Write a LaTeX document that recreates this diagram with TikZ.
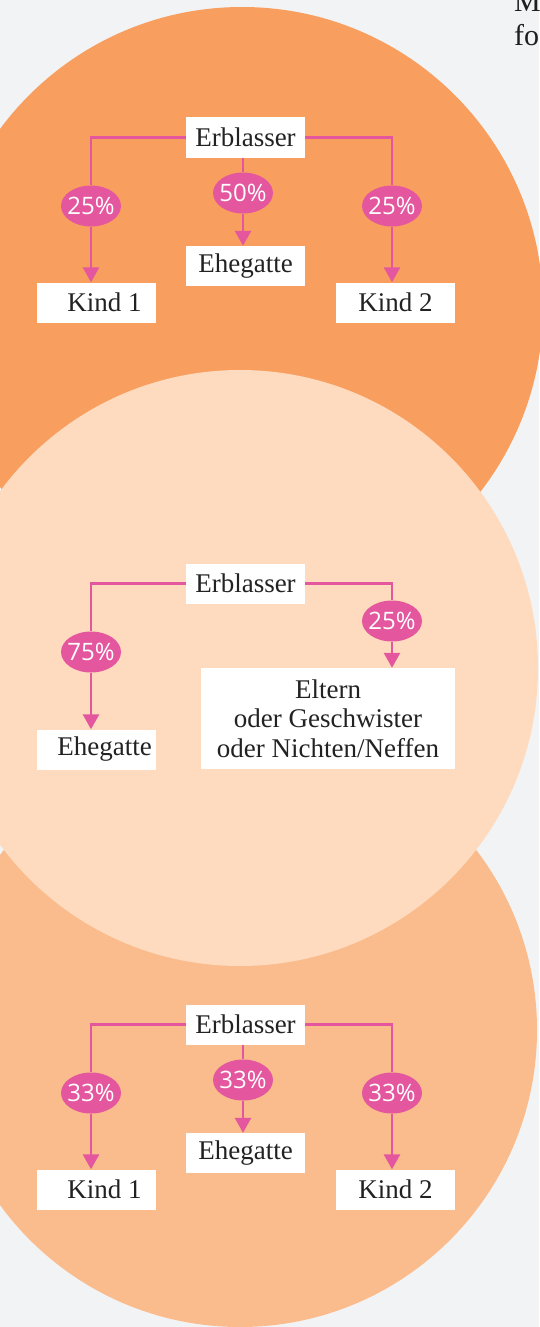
\documentclass[tikz,border=0pt]{standalone}
\usepackage{fontspec}
\setmainfont{Liberation Serif}
\newfontfamily\sharefont{Open Sans}
\usepackage{tikz}
\usetikzlibrary{positioning}
\usetikzlibrary{shapes.geometric}
\usetikzlibrary{arrows.meta}
\usepackage{xcolor}

\definecolor{bggray}{HTML}{F2F3F5}
\definecolor{kreisA}{HTML}{F89F60}
\definecolor{kreisB}{HTML}{FEDBBE}
\definecolor{kreisC}{HTML}{FABC8C}
\definecolor{erbpink}{HTML}{E4579F}
\definecolor{textgray}{HTML}{222222}

\tikzset{
    namebox/.style={fill=white, text=textgray, inner sep=0pt,
        minimum width=119pt, minimum height=40pt,
        font=\fontsize{27}{29.5}\selectfont},
    share/.style={ellipse, fill=erbpink, text=white, inner xsep=-10pt, inner ysep=0pt,
        minimum width=60pt, minimum height=41pt,
        font=\sharefont\fontsize{24}{26}\selectfont},
    link/.style={draw=erbpink, line width=2.8pt},
    pfeil/.style={link, -{Triangle[width=16pt,length=15pt]}},
}

\begin{document}
\begin{tikzpicture}[x=1pt,y=-1pt]
        \useasboundingbox (0,0) rectangle (539,1327);
        \fill[bggray] (0,0) rectangle (539,1327);
        % die drei Kreise, der mittlere zuletzt
        \foreach \cx/\cy/\r/\c in {242/308/301/kreisA, 240/1030/297/kreisC, 240/668/298/kreisB}
        {
            \fill[\c] (\cx,\cy) circle[radius=\r pt];
        }
        \node[anchor=base west, inner sep=0pt, text=black!88, font=\fontsize{30}{34}\selectfont] (randM) at (514,12) {M};
        \node[anchor=base west, inner sep=0pt, text=black!88, font=\fontsize{30}{34}\selectfont] (randfo) at (514,46) {fo};

        % Kinder und Ehegatte (oben und unten)
        \foreach \n/\dy/\p/\q in {A/0/25/50, C/887/33/33}
        {
            \begin{scope}[shift={(0,\dy)}]
                \node[namebox] (erb\n) at (245.5,137.5) {Erblasser};
                \node[namebox] (gatte\n) at (245.5,266) {Ehegatte};
                \node[namebox] (kindl\n) at (96.5,302.5) {\hspace*{16pt}Kind 1};
                \node[namebox] (kindr\n) at (395.5,302.5) {Kind 2};
                \node[share] (shl\n) at (91,206) {\p\%};
                \node[share] (shm\n) at (243,193) {\q\%};
                \node[share] (shr\n) at (392,206) {\p\%};
                \draw[link] (erb\n.west) -| (shl\n.north);
                \draw[link] (erb\n.east) -| (shr\n.north);
                \draw[link] (erb\n.south -| shm\n) -- (shm\n.north);
                \draw[pfeil] (shl\n.south) -- (shl\n.south |- kindl\n.north);
                \draw[pfeil] (shr\n.south) -- (shr\n.south |- kindr\n.north);
                \draw[pfeil] (shm\n.south) -- (shm\n.south |- gatte\n.north);
            \end{scope}
        }

        % Ehegatte und Eltern (Mitte)
        \node[namebox] (erbB) at (245.5,583.5) {Erblasser};
        \node[namebox] (gatteB) at (96.5,749.5) {\hspace*{16pt}Ehegatte};
        \node[namebox, minimum width=254pt, minimum height=101pt, align=center] (elternB) at (328,718.5) {Eltern\\oder Geschwister\\oder Nichten/Neffen};
        \node[share] (shlB) at (91,652) {75\%};
        \node[share] (shrB) at (392,621) {25\%};
        \draw[link] (erbB.west) -| (shlB.north);
        \draw[link] (erbB.east) -| (shrB.north);
        \draw[pfeil] (shlB.south) -- (shlB.south |- gatteB.north);
        \draw[pfeil] (shrB.south) -- (shrB.south |- elternB.north);
    \end{tikzpicture}
\end{document}
